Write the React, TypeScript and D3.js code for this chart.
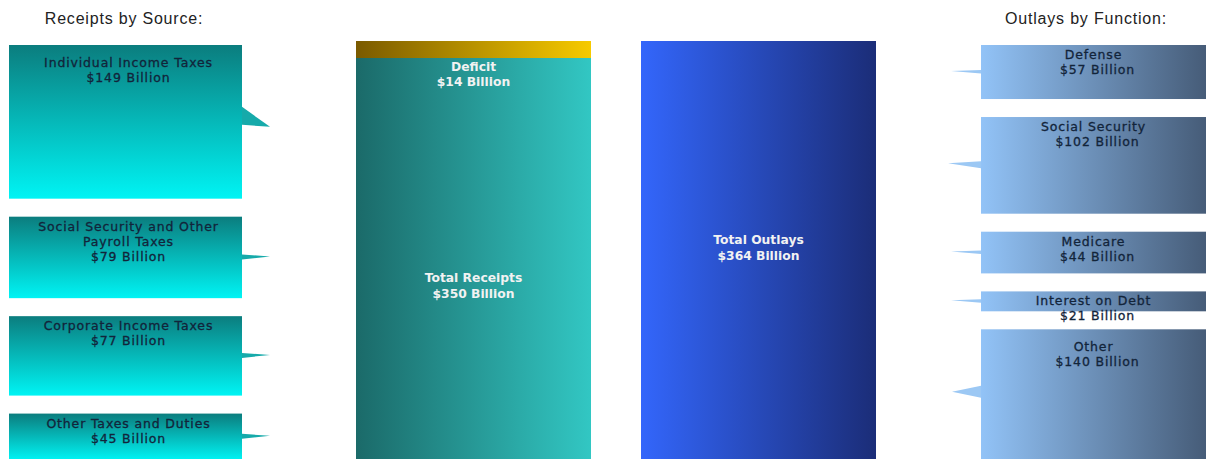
import React from "react";
import * as d3 from "d3";

const receiptNames = ["Individual Income Taxes", "Social Security and Other|Payroll Taxes", "Corporate Income Taxes", "Other Taxes and Duties"];
const receiptValues = [149, 79, 77, 45];
const outlayNames = ["Defense", "Social Security", "Medicare", "Interest on Debt", "Other"];
const outlayValues = [57, 102, 44, 21, 140];
const totalReceipts = 350;
const totalOutlays = 364;
const deficit = 14;

const W = 1206;
const H = 459;

function stackBoxes(values: number[], top: number, avail: number, gap: number) {
  const total = d3.sum(values);
  const k = d3.scaleLinear().domain([0, total]).range([0, avail - gap * (values.length - 1)]);
  let y = top;
  return values.map((v) => {
    const h = k(v);
    const r = { y, h };
    y += h + gap;
    return r;
  });
}

export default function App() {
  const left = stackBoxes(receiptValues, 45, 415, 18);
  const right = stackBoxes(outlayValues, 45, 417, 18);
  const yC = d3.scaleLinear().domain([0, totalOutlays]).range([41, 41 + totalOutlays * 1.214]);
  const lx0 = 9, lx1 = 242;
  const rx0 = 981, rx1 = 1206;
  const rb0 = 356, rb1 = 591;
  const ob0 = 641, ob1 = 876;
  const boxFont = { fontFamily: "DejaVu Sans, Verdana, sans-serif", fontSize: 12.5, letterSpacing: 0.85, fill: "#12243a", stroke: "#12243a", strokeWidth: 0.3 } as any;
  const barFont = { fontFamily: "DejaVu Sans, Verdana, sans-serif", fontSize: 12.3, fontWeight: "bold", fill: "#f2f2f2" } as any;
  const titleFont = { fontFamily: "Liberation Sans, Arial, sans-serif", fontSize: 16, letterSpacing: 0.8, fill: "#222" } as any;
  const defEnd = yC(deficit);
  const recMid = (defEnd + H) / 2;
  return (
    <svg width={W} height={H} style={{ position: "absolute", left: 0, top: 0, background: "#fff" }}>
      <defs>
        <linearGradient id="gL" x1="0" y1="0" x2="0" y2="1">
          <stop offset="0" stopColor="#0b7d7e" />
          <stop offset="1" stopColor="#00f4f4" />
        </linearGradient>
        <linearGradient id="gR" x1="0" y1="0" x2="1" y2="0">
          <stop offset="0" stopColor="#92c3f7" />
          <stop offset="1" stopColor="#465c78" />
        </linearGradient>
        <linearGradient id="gD" x1="0" y1="0" x2="1" y2="0">
          <stop offset="0" stopColor="#7a5a00" />
          <stop offset="1" stopColor="#f7ca00" />
        </linearGradient>
        <linearGradient id="gRec" x1="0" y1="0" x2="1" y2="0">
          <stop offset="0" stopColor="#1b6a69" />
          <stop offset="1" stopColor="#32c7c3" />
        </linearGradient>
        <linearGradient id="gOut" x1="0" y1="0" x2="1" y2="0">
          <stop offset="0" stopColor="#3366fb" />
          <stop offset="1" stopColor="#1b2d78" />
        </linearGradient>
      </defs>

      <text x={124} y={24} textAnchor="middle" style={titleFont}>Receipts by Source:</text>
      <text x={1086} y={24} textAnchor="middle" style={titleFont}>Outlays by Function:</text>

      {receiptNames.map((name, i) => {
        const b = left[i];
        const cy = b.y + b.h / 2;
        const tall = b.h > 120;
        const pts = tall
          ? [[lx1, cy - 15], [lx1 + 28, cy + 5], [lx1, cy + 3]]
          : [[lx1, cy - 3], [lx1 + 28, cy - 1], [lx1, cy + 2]];
        const lines = name.split("|").concat([`$${receiptValues[i]} Billion`]);
        const off = tall ? 22 : 14;
        return (
          <g key={name}>
            <rect x={lx0} y={b.y} width={lx1 - lx0} height={b.h} fill="url(#gL)" />
            <polygon points={pts.map((p) => p.join(",")).join(" ")} fill="#16aaaa" />
            {lines.map((t, j) => (
              <text key={j} x={(lx0 + lx1) / 2 + 3} y={b.y + off + j * 15} textAnchor="middle" style={boxFont}>{t}</text>
            ))}
          </g>
        );
      })}

      <rect x={rb0} y={yC(0)} width={rb1 - rb0} height={defEnd - yC(0)} fill="url(#gD)" />
      <rect x={rb0} y={defEnd} width={rb1 - rb0} height={yC(totalOutlays) - defEnd} fill="url(#gRec)" />
      <text x={(rb0 + rb1) / 2} y={defEnd + 13} textAnchor="middle" style={barFont}>Deficit</text>
      <text x={(rb0 + rb1) / 2} y={defEnd + 28} textAnchor="middle" style={barFont}>{`$${deficit} Billion`}</text>
      <text x={(rb0 + rb1) / 2} y={recMid + 24} textAnchor="middle" style={barFont}>Total Receipts</text>
      <text x={(rb0 + rb1) / 2} y={recMid + 40} textAnchor="middle" style={barFont}>{`$${totalReceipts} Billion`}</text>

      <rect x={ob0} y={yC(0)} width={ob1 - ob0} height={yC(totalOutlays) - yC(0)} fill="url(#gOut)" />
      <text x={(ob0 + ob1) / 2} y={(yC(0) + H) / 2 - 6} textAnchor="middle" style={barFont}>Total Outlays</text>
      <text x={(ob0 + ob1) / 2} y={(yC(0) + H) / 2 + 10} textAnchor="middle" style={barFont}>{`$${totalOutlays} Billion`}</text>

      {outlayNames.map((name, i) => {
        const b = right[i];
        const cy = b.y + b.h / 2;
        const tall = b.h > 120;
        const mid = b.h > 80;
        const pts = tall
          ? [[rx0, cy - 10], [rx0 - 29, cy - 4], [rx0, cy + 2]]
          : mid
          ? [[rx0, cy - 4], [rx0 - 33, cy - 2], [rx0, cy + 3]]
          : [[rx0, cy - 2], [rx0 - 30, cy - 1], [rx0, cy + 1.5]];
        const off = tall ? 22 : 14;
        return (
          <g key={name}>
            <rect x={rx0} y={b.y} width={rx1 - rx0} height={b.h} fill="url(#gR)" />
            <polygon points={pts.map((p) => p.join(",")).join(" ")} fill="#9cc8f4" />
            <text x={(rx0 + rx1) / 2} y={b.y + off} textAnchor="middle" style={boxFont}>{name}</text>
            <text x={(rx0 + rx1) / 2 + 4} y={b.y + off + 15} textAnchor="middle" style={boxFont}>{`$${outlayValues[i]} Billion`}</text>
          </g>
        );
      })}
    </svg>
  );
}
